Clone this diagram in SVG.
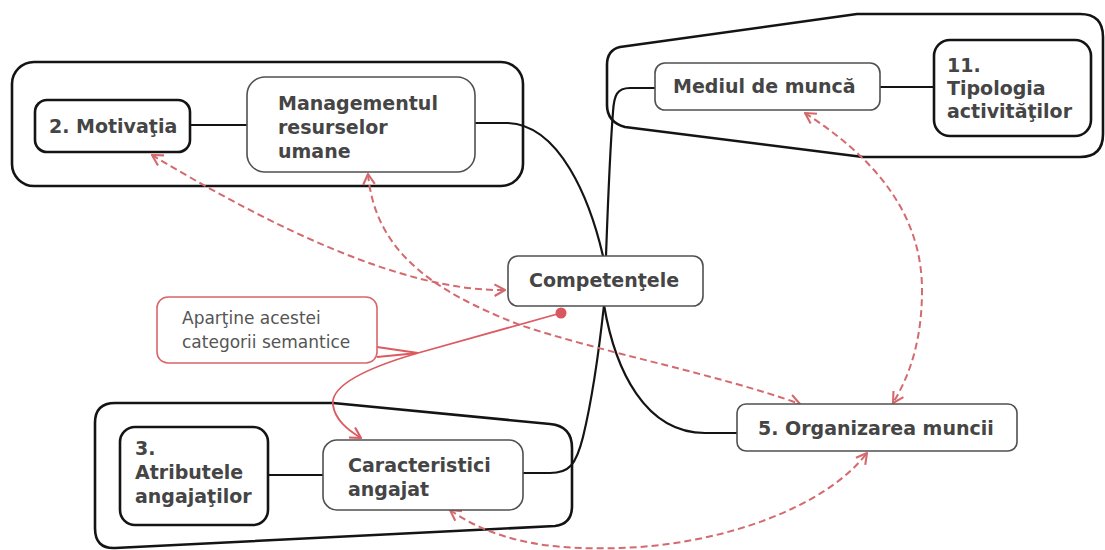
<svg xmlns="http://www.w3.org/2000/svg" width="1105" height="550" viewBox="0 0 1105 550">
  <style>
    .bg { fill: #ffffff; }
    .group { fill: none; stroke: #141414; stroke-width: 2.6; stroke-linejoin: round; }
    .node { fill: #ffffff; stroke: #505050; stroke-width: 1.6; }
    .node-strong { fill: #ffffff; stroke: #141414; stroke-width: 2.6; }
    .label { font-family: "DejaVu Sans", Verdana, sans-serif; font-weight: bold; font-size: 19px; fill: #454545; }
    .note-box { fill: #ffffff; stroke: #d9666b; stroke-width: 1.6; }
    .note { font-family: "DejaVu Sans", Verdana, sans-serif; font-size: 17px; fill: #555555; }
    .branch { fill: none; stroke: #141414; stroke-width: 2.2; stroke-linecap: round; }
    .rel { fill: none; stroke: #d46a6e; stroke-width: 2; stroke-dasharray: 7 4; marker-start: url(#chev); marker-end: url(#chev); }
    .solid-rel { fill: none; stroke: #dc5a60; stroke-width: 1.8; }
  </style>
  <defs>
    <marker id="chev" markerUnits="userSpaceOnUse" markerWidth="14" markerHeight="14" viewBox="0 0 12 12" refX="10" refY="6" orient="auto-start-reverse">
      <path d="M1,1 L10,6 L1,11" fill="none" stroke="#d46a6e" stroke-width="1.8" stroke-linejoin="round"/>
    </marker>
    <marker id="chev-solid" markerUnits="userSpaceOnUse" markerWidth="14" markerHeight="14" viewBox="0 0 12 12" refX="10" refY="6" orient="auto">
      <path d="M1,1 L10,6 L1,11" fill="none" stroke="#dc5a60" stroke-width="1.8" stroke-linejoin="round"/>
    </marker>
  </defs>

  <rect class="bg" x="0" y="0" width="1105" height="550"/>

  <!-- category outlines -->
  <g id="groups">
    <rect class="group" x="12" y="62" width="511" height="124" rx="22" ry="22"/>
    <path class="group" d="M620,47 L857,14 L1080,14 Q1103,14 1103,37 L1103,134 Q1103,157 1080,157 L863,157 L625,127 Q607,122 607,105 L607,65 Q607,50 620,47 Z"/>
    <path class="group" d="M115,403 L333,403 L550,424 Q572,426 572,448 L572,506 Q572,524 555,526 L115,548 Q95,549 95,528 L95,423 Q95,403 115,403 Z"/>
  </g>

  <!-- tree branches and relations -->
  <g id="connectors">
    <path class="branch" d="M177,125 L246,125"/>
    <path class="branch" d="M475,123 L508,123 C560,125 590,200 603,256"/>
    <path class="branch" d="M606,256 C608,200 610,150 613,112 C614,95 617,88 630,88 L656,88"/>
    <path class="branch" d="M880,87 L944,87"/>
    <path class="branch" d="M604,305 C615,370 645,433 705,433 L737,433"/>
    <path class="branch" d="M604,305 C598,360 592,400 583,437 C576,465 569,473 550,473 L523,473"/>
    <path class="branch" d="M257,475 L323,475"/>

    <path class="rel" d="M152,155 C260,220 400,292 505,290"/>
    <path class="rel" d="M368,174 C375,250 430,290 520,325 C600,352 720,375 800,404"/>
    <path class="rel" d="M805,113 C870,155 922,210 922,290 C922,340 910,375 893,403"/>
    <path class="rel" d="M450,510 C500,545 560,550 620,548 C720,545 825,508 867,453"/>

    <path class="solid-rel" d="M561,313 L418,353 C370,367 330,385 333,405 C335,420 348,430 361,438" marker-end="url(#chev-solid)"/>
    <path class="solid-rel" d="M377,347 L418,353 L377,357"/>
    <circle cx="561" cy="313" r="5.5" fill="#d9575e"/>
  </g>

  <g id="motivatia">
    <rect class="node-strong" x="35" y="100" width="155" height="52" rx="12"/>
    <text class="label" x="49" y="133">2. Motivaţia</text>
  </g>

  <g id="management">
    <rect class="node" x="247" y="77" width="228" height="95" rx="18"/>
    <text class="label" x="278" y="110">Managementul</text>
    <text class="label" x="278" y="134">resurselor</text>
    <text class="label" x="278" y="158">umane</text>
  </g>

  <g id="mediul">
    <rect class="node" x="655" y="63" width="225" height="47" rx="10"/>
    <text class="label" x="673" y="93">Mediul de muncă</text>
  </g>

  <g id="tipologia">
    <rect class="node-strong" x="934" y="40" width="157" height="96" rx="16"/>
    <text class="label" x="947" y="72">11.</text>
    <text class="label" x="947" y="95">Tipologia</text>
    <text class="label" x="947" y="118">activităţilor</text>
  </g>

  <g id="competentele">
    <rect class="node" x="508" y="256" width="195" height="50" rx="10"/>
    <text class="label" x="529" y="287">Competenţele</text>
  </g>

  <g id="nota">
    <rect class="note-box" x="157" y="297" width="220" height="66" rx="11"/>
    <text class="note" x="182" y="324">Aparţine acestei</text>
    <text class="note" x="182" y="348">categorii semantice</text>
  </g>

  <g id="organizarea">
    <rect class="node" x="737" y="404" width="280" height="47" rx="9"/>
    <text class="label" x="758" y="435">5. Organizarea muncii</text>
  </g>

  <g id="atributele">
    <rect class="node-strong" x="120" y="427" width="148" height="98" rx="15"/>
    <text class="label" x="135" y="455">3.</text>
    <text class="label" x="135" y="479">Atributele</text>
    <text class="label" x="135" y="503">angajaţilor</text>
  </g>

  <g id="caracteristici">
    <rect class="node" x="323" y="440" width="200" height="70" rx="14"/>
    <text class="label" x="348" y="472">Caracteristici</text>
    <text class="label" x="348" y="496">angajat</text>
  </g>
</svg>
